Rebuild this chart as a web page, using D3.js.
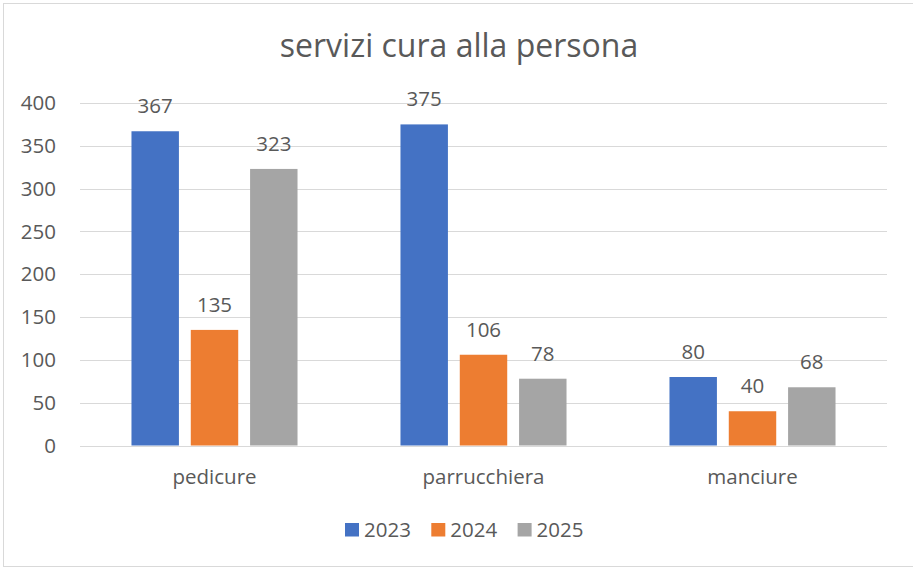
<!DOCTYPE html>
<html lang="it">
<head>
<meta charset="UTF-8">
<title>servizi cura alla persona</title>
<style>
  body{margin:0;background:#fff;font-family:'Open Sans',sans-serif}
  svg{display:block}
  .grid line{stroke:#d9d9d9;stroke-width:1}
  .lbl{fill:#595959;font-size:20.5px}
</style>
</head>
<body>
<div id="chart"></div>
<script src="https://d3js.org/d3.v7.min.js"></script>
<script>
// dati
const categories = ["pedicure","parrucchiera","manciure"];
const series     = ["2023","2024","2025"];
const values2023 = [367,375,80];
const values2024 = [135,106,40];
const values2025 = [323,78,68];
const yTicks     = [0,50,100,150,200,250,300,350,400];
const colors     = ["#4472c4","#ed7d31","#a5a5a5"];

const W=913, H=568;
const plot={left:80,right:887,top:103,bottom:445.5};

const rows = categories.map((c,i)=>({cat:c, vals:[values2023[i],values2024[i],values2025[i]]}));

const svg=d3.select("#chart").append("svg").attr("width",W).attr("height",H);

// cornice
svg.append("rect").attr("x",3.5).attr("y",3.5).attr("width",W+10).attr("height",563)
   .attr("fill","#fff").attr("stroke","#d9d9d9").attr("stroke-width",1);

// titolo
svg.append("text").attr("x",459).attr("y",57)
   .attr("text-anchor","middle").attr("fill","#595959")
   .style("font-size","32px").text("servizi cura alla persona");

// scale
const x0=d3.scaleBand().domain(categories).range([plot.left,plot.right]).padding(0);
const x1=d3.scaleBand().domain(series).range([0,x0.bandwidth()])
           .paddingInner(0.2).paddingOuter(0.868);
const y=d3.scaleLinear().domain([0,400]).range([plot.bottom,plot.top]);

// griglia
svg.append("g").attr("class","grid")
   .selectAll("line").data(yTicks).join("line")
   .attr("x1",plot.left).attr("x2",plot.right)
   .attr("y1",d=>Math.round(y(d))+0.5).attr("y2",d=>Math.round(y(d))+0.5);

// etichette asse y
svg.append("g").selectAll("text").data(yTicks).join("text")
   .attr("class","lbl").attr("x",56).attr("y",d=>y(d)).attr("dy","0.35em")
   .attr("text-anchor","end").text(d=>d);

// barre
const grp=svg.append("g").selectAll("g").data(rows).join("g")
   .attr("transform",d=>`translate(${x0(d.cat)},0)`);

grp.selectAll("rect").data(d=>d.vals.map((v,i)=>({s:series[i],v,i}))).join("rect")
   .attr("x",d=>x1(d.s)).attr("width",x1.bandwidth())
   .attr("y",d=>y(d.v)).attr("height",d=>y(0)-y(d.v))
   .attr("fill",d=>colors[d.i]);

grp.selectAll("text").data(d=>d.vals.map((v,i)=>({s:series[i],v,i}))).join("text")
   .attr("class","lbl").attr("text-anchor","middle")
   .attr("x",d=>x1(d.s)+x1.bandwidth()/2).attr("y",d=>y(d.v)-18)
   .text(d=>d.v);

// etichette categorie
svg.append("g").selectAll("text").data(categories).join("text")
   .attr("class","lbl").attr("text-anchor","middle")
   .attr("x",d=>x0(d)+x0.bandwidth()/2).attr("y",484)
   .text(d=>d);

// legenda
const legStep=86.3, legX=345;
const leg=svg.append("g").selectAll("g").data(series).join("g")
   .attr("transform",(d,i)=>`translate(${legX+i*legStep},523)`);
leg.append("rect").attr("width",14).attr("height",13.5).attr("fill",(d,i)=>colors[i]);
leg.append("text").attr("class","lbl").attr("x",19).attr("y",14).text(d=>d);
</script>
</body>
</html>
